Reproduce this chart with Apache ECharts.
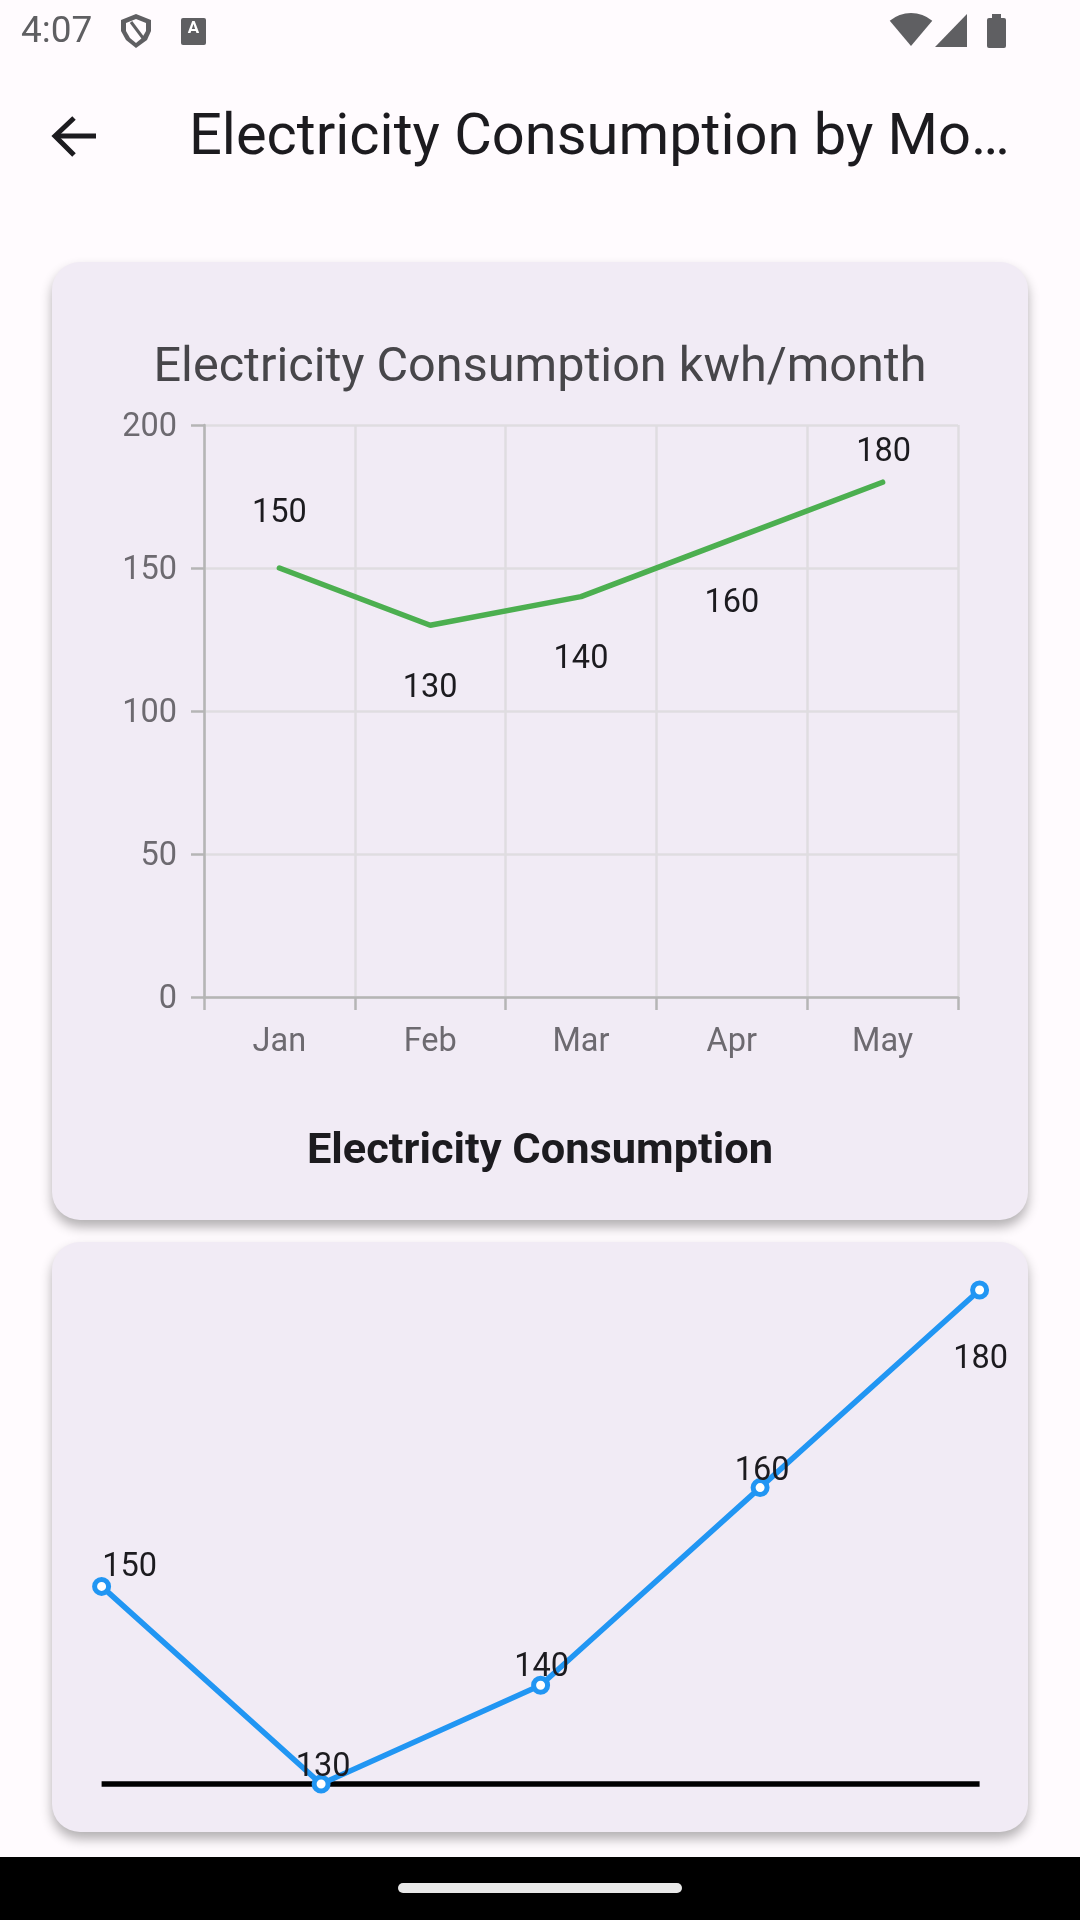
<!DOCTYPE html>
<html><head><meta charset="utf-8">
<style>html,body{margin:0;padding:0;background:#fffbfe}#c{width:1080px;height:1920px}</style>
<script src="https://cdn.jsdelivr.net/npm/echarts@6/dist/echarts.min.js"></script>
</head><body><div id="c"></div>
<script>
const months = ['Jan','Feb','Mar','Apr','May'];
const consumption = [150,130,140,160,180];
const trend = [150,130,140,160,180];
const yTicksMax = 200;
const topLabelShift = [[0,-54],[0,64],[0,63],[0,64],[1,-29]];
const bottomLabelShift = [[28,-19],[2,-16],[1,-17],[2,-16],[1,70]];
const F = 'Roboto';
const chart = echarts.init(document.getElementById('c'),null,{renderer:'canvas',width:1080,height:1920});
function card(y,h){return {type:'rect',z:-10,shape:{x:52,y:y,width:976,height:h,r:28},
  style:{fill:'#f1ebf5',shadowBlur:12,shadowOffsetY:7,shadowColor:'rgba(0,0,0,0.3)'}};}
const gray='#6d6a70', ic='#5f5f62';
chart.setOption({
  animation:false,
  backgroundColor:'#fffbfe',
  title:[
    {text:'Electricity Consumption by Mo…',left:184,top:106,textStyle:{fontFamily:F,fontSize:57.8,fontWeight:400,color:'#1c1b1f'}},
    {text:'Electricity Consumption kwh/month',left:'center',top:339,textStyle:{fontFamily:F,fontSize:48.6,fontWeight:400,color:'#47464a'}},
    {text:'Electricity Consumption',left:'center',top:1126,textStyle:{fontFamily:F,fontSize:43.4,fontWeight:700,color:'#1c1b1f'}}
  ],
  grid:[
    {left:204,top:425,width:754,height:572},
    {left:101.6,top:1290,width:878,height:494}
  ],
  xAxis:[
    {gridIndex:0,type:'category',data:months,boundaryGap:true,
      axisLine:{lineStyle:{color:'#b5b5b5',width:2.5}},
      axisTick:{show:true,alignWithLabel:false,length:13,lineStyle:{color:'#b5b5b5',width:2.5}},
      axisLabel:{fontFamily:F,fontSize:32.5,color:gray,margin:29},
      splitLine:{show:true,lineStyle:{color:'#dfdde0',width:2.5}}},
    {gridIndex:1,type:'category',data:months,boundaryGap:false,
      axisLine:{lineStyle:{color:'#000',width:5.5,cap:'butt'}},axisTick:{show:false},axisLabel:{show:false},splitLine:{show:false}}
  ],
  yAxis:[
    {gridIndex:0,type:'value',min:0,max:yTicksMax,interval:50,
      axisLine:{show:true,lineStyle:{color:'#b5b5b5',width:2.5}},
      axisTick:{show:true,length:13,lineStyle:{color:'#b5b5b5',width:2.5}},
      axisLabel:{fontFamily:F,fontSize:32.5,color:gray,margin:27,verticalAlign:'top',lineHeight:6},
      splitLine:{show:true,lineStyle:{color:'#dfdde0',width:2.5}}},
    {gridIndex:1,type:'value',min:130,max:180,show:false,splitLine:{show:false}}
  ],
  series:[
    {type:'line',xAxisIndex:0,yAxisIndex:0,showSymbol:true,showAllSymbol:true,symbol:'circle',symbolSize:1,
      itemStyle:{color:'#4caf50'},
      lineStyle:{color:'#4caf50',width:5.5,cap:'round'},
      data:consumption.map((v,i)=>({value:v,label:{show:true,position:'inside',offset:topLabelShift[i]}})),
      label:{show:true,fontFamily:F,fontSize:32.5,color:'#1c1b1f'}},
    {type:'line',xAxisIndex:1,yAxisIndex:1,symbol:'circle',symbolSize:14,clip:false,showSymbol:true,showAllSymbol:true,
      lineStyle:{color:'#2196f3',width:5.5},
      itemStyle:{color:'#fff',borderColor:'#2196f3',borderWidth:5},
      data:trend.map((v,i)=>({value:v,label:{show:true,position:'inside',offset:bottomLabelShift[i]}})),
      label:{show:true,fontFamily:F,fontSize:32.5,color:'#1c1b1f'}}
  ],
  graphic:[
    card(262,958),card(1242,590),
    {type:'rect',z:-5,shape:{x:0,y:1857,width:1080,height:63},style:{fill:'#000'}},
    {type:'rect',z:5,shape:{x:398,y:1883,width:284,height:10,r:5},style:{fill:'#e8e8e8'}},
    {type:'text',style:{x:21,y:33,text:'4:07',font:'400 37px Roboto',fill:ic,textVerticalAlign:'middle'}},
    {type:'polygon',z:1,shape:{points:[[136,14],[151,20],[151,31],[147,40],[136,48],[126,40],[121,31],[121,20]]},style:{fill:ic}},
    {type:'polygon',z:2,shape:{points:[[136,19],[126,23],[126,31],[130,38],[136,43],[142,38],[146,31],[146,23]]},style:{fill:'#fffbfe'}},
    {type:'line',z:3,shape:{x1:131,y1:22,x2:143,y2:38},style:{stroke:ic,lineWidth:3}},
    {type:'rect',shape:{x:181,y:18,width:25,height:27,r:2},style:{fill:ic}},
    {type:'text',z:2,style:{x:193.5,y:29,text:'A',font:'700 17px Roboto',fill:'#fff',textAlign:'center',textVerticalAlign:'middle'}},
    {type:'sector',shape:{cx:911,cy:46,r:33,r0:0,startAngle:-2.27,endAngle:-0.87,clockwise:true},style:{fill:ic}},
    {type:'polygon',shape:{points:[[967,14],[967,47],[935,47]]},style:{fill:ic}},
    {type:'rect',shape:{x:987,y:18,width:19,height:30,r:2},style:{fill:ic}},
    {type:'rect',shape:{x:992,y:14,width:9,height:5},style:{fill:ic}},
    {type:'polyline',shape:{points:[[74,118],[55,136],[74,155]]},style:{stroke:'#1c1b1f',lineWidth:5,fill:null}},
    {type:'line',shape:{x1:56,y1:136,x2:96,y2:136},style:{stroke:'#1c1b1f',lineWidth:5}}
  ]
});
</script></body></html>
